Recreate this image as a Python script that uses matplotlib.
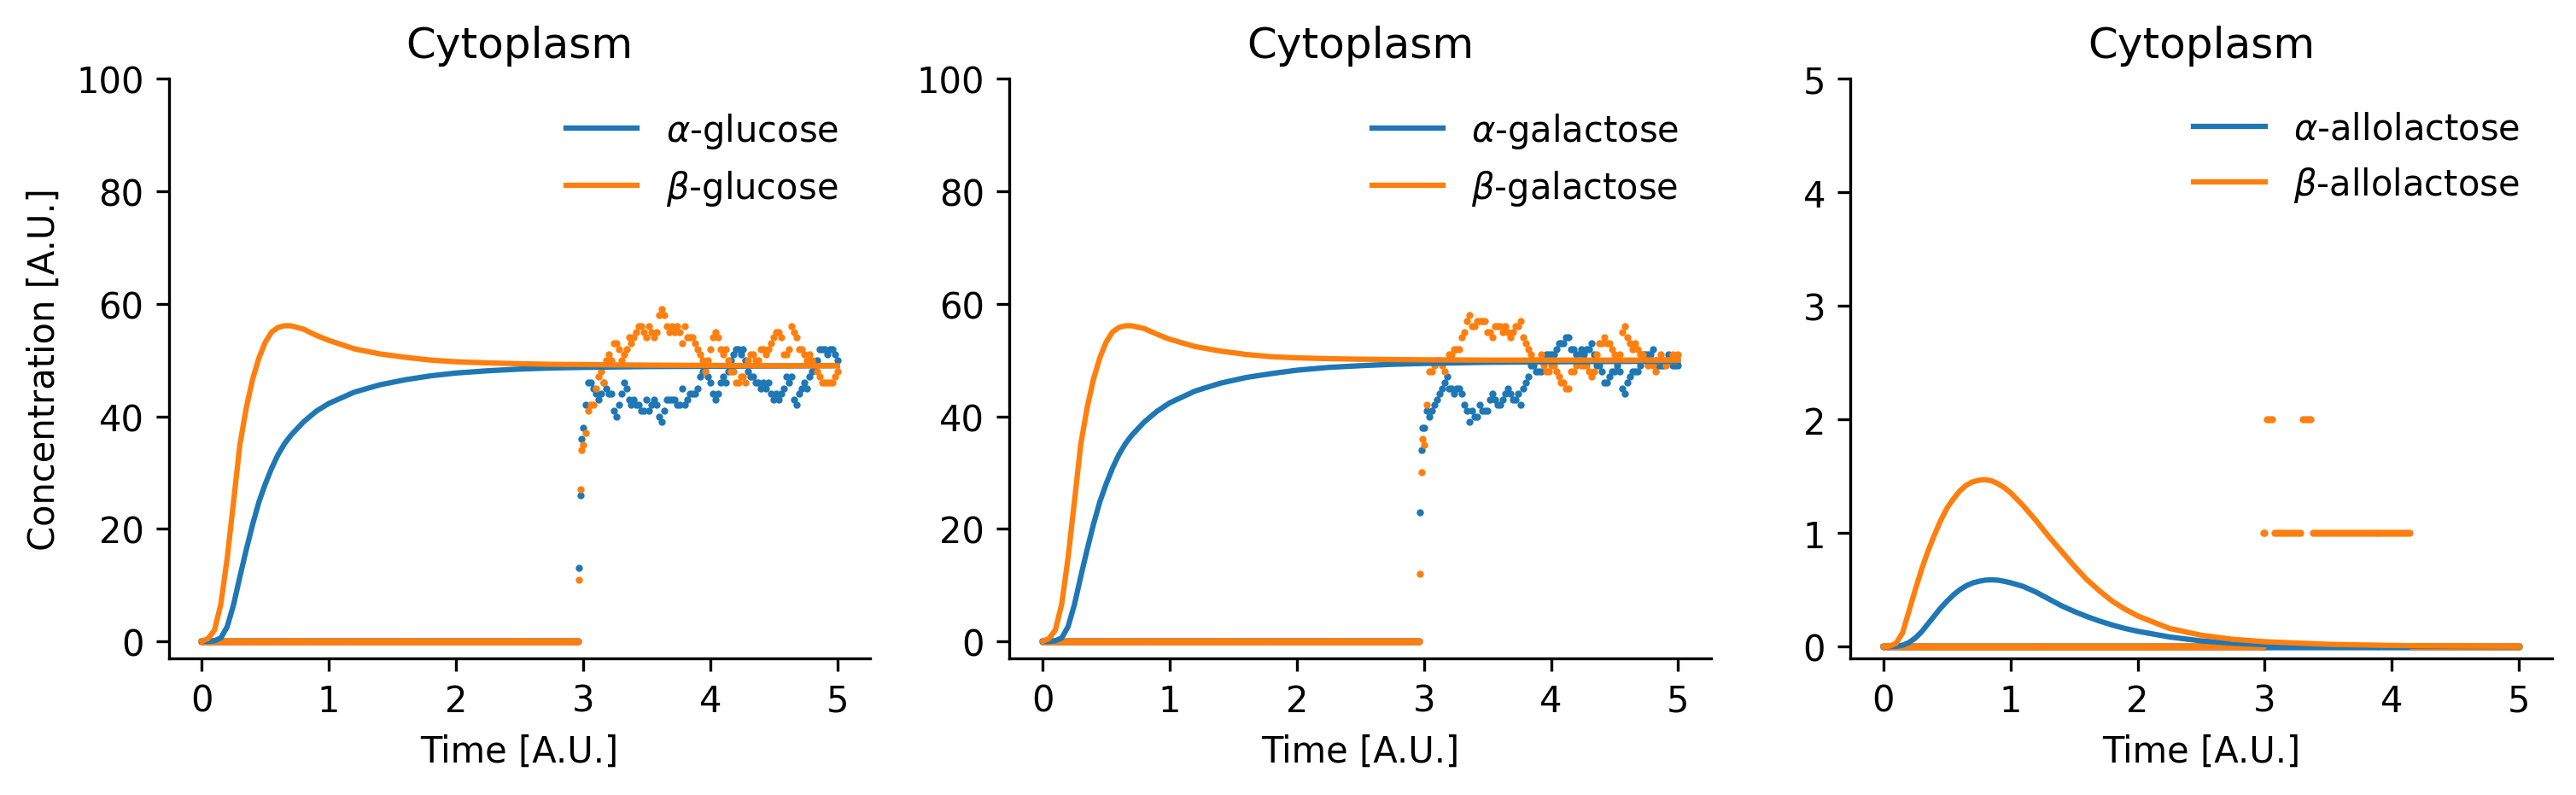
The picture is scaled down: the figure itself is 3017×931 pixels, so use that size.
import numpy as np
import matplotlib.pyplot as plt

# ---- deterministic solution ----
t_ode = [0, 0.05, 0.1, 0.15, 0.2, 0.25, 0.3, 0.35, 0.4, 0.45, 0.5, 0.55, 0.6, 0.65, 0.7,
         0.8, 0.9, 1.0, 1.2, 1.4, 1.6, 1.8, 2.0, 2.25, 2.5, 2.75, 3.0, 3.5, 4.0, 4.5, 5.0]
alpha_glc = [0, 0, 0.1, 0.6, 2.6, 6.5, 11.5, 16.3, 20.8, 24.8, 28.0, 30.8, 33.2, 35.1, 36.6,
             39.0, 40.9, 42.3, 44.3, 45.6, 46.5, 47.2, 47.7, 48.1, 48.4, 48.6, 48.7, 48.85, 48.9, 48.95, 49.0]
beta_glc = [0, 0.5, 2.0, 6.6, 14.8, 24.8, 35.0, 41.5, 46.6, 50.4, 53.2, 55.0, 55.8, 56.1, 56.1,
            55.5, 54.4, 53.5, 52.0, 51.1, 50.5, 50.0, 49.7, 49.5, 49.35, 49.25, 49.2, 49.1, 49.05, 49.0, 49.0]
alpha_gal = [0, 0, 0.1, 0.6, 2.6, 6.5, 11.5, 16.3, 20.8, 24.8, 28.0, 30.8, 33.2, 35.1, 36.6,
             39.0, 40.9, 42.4, 44.5, 45.9, 46.9, 47.6, 48.2, 48.7, 49.0, 49.25, 49.4, 49.6, 49.7, 49.75, 49.8]
beta_gal = [0, 0.5, 2.0, 6.6, 14.8, 24.8, 35.0, 41.5, 46.6, 50.4, 53.2, 55.0, 55.8, 56.1, 56.1,
            55.6, 54.6, 53.7, 52.4, 51.6, 51.0, 50.6, 50.4, 50.25, 50.15, 50.1, 50.05, 50.0, 50.0, 50.0, 50.0]

t_ode3 = [0, 0.05, 0.1, 0.15, 0.2, 0.25, 0.3, 0.35, 0.4, 0.45, 0.5, 0.55, 0.6, 0.65, 0.7,
          0.75, 0.8, 0.85, 0.9, 0.95, 1.0, 1.1, 1.2, 1.3, 1.4, 1.5, 1.6, 1.7, 1.8, 1.9,
          2.0, 2.25, 2.5, 2.75, 3.0, 3.5, 4.0, 4.5, 5.0]
alpha_allo = [0, 0, 0.002, 0.012, 0.035, 0.075, 0.13, 0.20, 0.27, 0.34, 0.40, 0.455, 0.50, 0.535, 0.56,
              0.575, 0.585, 0.588, 0.585, 0.575, 0.562, 0.53, 0.48, 0.42, 0.36, 0.31, 0.265, 0.225, 0.19, 0.16,
              0.135, 0.085, 0.05, 0.03, 0.017, 0.007, 0.003, 0.001, 0.0005]
beta_allo = [0, 0.005, 0.03, 0.12, 0.31, 0.50, 0.68, 0.84, 0.98, 1.11, 1.22, 1.30, 1.37, 1.42, 1.45,
             1.465, 1.47, 1.46, 1.435, 1.40, 1.355, 1.24, 1.11, 0.97, 0.84, 0.71, 0.59, 0.49, 0.40, 0.33,
             0.27, 0.16, 0.10, 0.064, 0.043, 0.02, 0.01, 0.005, 0.003]

# ---- stochastic run (dots) ----
# flat at zero until ~2.96, a few onset points, then every 0.02 from 3.00 to 5.00
t_flat = np.arange(0, 2.961, 0.02)
t_onset = [2.97, 2.98, 2.99]
t_main = np.round(np.arange(3.0, 5.001, 0.02), 2)

alpha_glc_onset = [13, 26, 36]
beta_glc_onset = [11, 27, 34]
alpha_gal_onset = [23, 34, 38]
beta_gal_onset = [12, 30, 36]
alpha_allo_onset = [0, 0, 0]
beta_allo_onset = [0, 0, 1]

alpha_glc_ssa = [38, 42, 46, 46, 45, 44, 43, 44, 46, 45,
                 44, 44, 41, 40, 42, 44, 46, 45, 43, 42,
                 43, 42, 42, 41, 41, 43, 41, 42, 43, 42,
                 40, 39, 41, 43, 43, 43, 43, 42, 42, 45,
                 42, 43, 44, 44, 44, 45, 47, 48, 48, 47,
                 46, 44, 43, 44, 46, 47, 46, 48, 50, 51,
                 52, 52, 51, 52, 50, 48, 47, 47, 46, 46,
                 45, 46, 45, 46, 44, 43, 44, 43, 44, 45,
                 47, 46, 47, 43, 42, 44, 45, 46, 45, 47,
                 48, 49, 50, 52, 52, 52, 51, 52, 52, 51,
                 50]
beta_glc_ssa = [35, 37, 41, 42, 42, 45, 47, 48, 46, 50,
                51, 50, 53, 53, 52, 50, 51, 52, 54, 53,
                54, 55, 56, 56, 55, 54, 56, 55, 54, 55,
                58, 59, 58, 56, 55, 56, 55, 56, 55, 53,
                56, 54, 54, 54, 53, 52, 51, 50, 48, 50,
                52, 54, 55, 54, 52, 51, 52, 50, 48, 48,
                46, 46, 47, 47, 46, 50, 51, 51, 50, 50,
                52, 52, 51, 52, 53, 54, 55, 55, 54, 51,
                51, 52, 56, 55, 54, 52, 52, 51, 50, 51,
                50, 49, 48, 47, 46, 46, 46, 46, 46, 47,
                48]
alpha_gal_ssa = [38, 41, 40, 41, 42, 43, 44, 45, 46, 47,
                 45, 45, 44, 45, 45, 44, 42, 41, 39, 41,
                 40, 40, 42, 41, 41, 41, 43, 44, 43, 42,
                 42, 43, 44, 45, 44, 43, 43, 44, 42, 45,
                 46, 47, 49, 49, 48, 48, 48, 50, 51, 51,
                 51, 51, 52, 53, 53, 53, 54, 54, 52, 52,
                 51, 51, 52, 51, 52, 52, 53, 51, 49, 49,
                 48, 46, 46, 47, 48, 48, 49, 48, 45, 44,
                 46, 47, 48, 48, 48, 49, 51, 51, 51, 51,
                 52, 50, 49, 49, 49, 50, 51, 50, 49, 49,
                 49]
beta_gal_ssa = [35, 42, 48, 48, 49, 50, 50, 49, 48, 50,
                51, 51, 52, 52, 52, 54, 55, 57, 58, 56,
                56, 57, 57, 57, 57, 55, 55, 54, 56, 56,
                56, 55, 56, 55, 54, 55, 56, 56, 57, 54,
                53, 52, 51, 50, 50, 50, 51, 49, 48, 48,
                49, 49, 48, 47, 46, 46, 45, 45, 48, 48,
                49, 50, 49, 49, 49, 48, 47, 48, 51, 53,
                53, 54, 53, 53, 52, 51, 50, 51, 55, 56,
                54, 53, 52, 53, 52, 51, 51, 50, 49, 50,
                49, 48, 50, 51, 50, 49, 50, 50, 51, 50,
                51]
alpha_allo_ssa = [0] * 101
beta_allo_ssa = [1] + [2] * 3 + [1] * 11 + [2] * 4 + [1] * 39 + [0] * 43

t_ssa = np.concatenate([t_flat, t_onset, t_main])


def ssa(onset, main):
    return np.concatenate([np.zeros(len(t_flat)), onset, main])


panels = [
    (r"$\alpha$-glucose", r"$\beta$-glucose", t_ode, alpha_glc, beta_glc,
     ssa(alpha_glc_onset, alpha_glc_ssa), ssa(beta_glc_onset, beta_glc_ssa), (-2.95, 100)),
    (r"$\alpha$-galactose", r"$\beta$-galactose", t_ode, alpha_gal, beta_gal,
     ssa(alpha_gal_onset, alpha_gal_ssa), ssa(beta_gal_onset, beta_gal_ssa), (-2.95, 100)),
    (r"$\alpha$-allolactose", r"$\beta$-allolactose", t_ode3, alpha_allo, beta_allo,
     ssa(alpha_allo_onset, alpha_allo_ssa), ssa(beta_allo_onset, beta_allo_ssa), (-0.1, 5)),
]

fig, axes = plt.subplots(1, 3, figsize=(3017 / 300, 932 / 300), dpi=300)
fig.subplots_adjust(left=0.0655, right=0.9907, bottom=0.1722, top=0.8999, wspace=0.1984)

for ax, (lab_a, lab_b, t_line, y_a, y_b, s_a, s_b, ylim) in zip(axes, panels):
    ax.scatter(t_ssa, s_a, s=1, color="C0")
    ax.scatter(t_ssa, s_b, s=1, color="C1")
    ax.plot(t_line, y_a, color="C0", label=lab_a)
    ax.plot(t_line, y_b, color="C1", label=lab_b)
    ax.set_title("Cytoplasm")
    ax.set_xlabel("Time [A.U.]")
    ax.set_xlim(-0.26, 5.26)
    ax.set_ylim(*ylim)
    ax.spines["top"].set_visible(False)
    ax.spines["right"].set_visible(False)
    ax.legend(frameon=False, loc="upper right")

axes[0].set_ylabel("Concentration [A.U.]")
axes[0].set_yticks([0, 20, 40, 60, 80, 100])
axes[1].set_yticks([0, 20, 40, 60, 80, 100])
axes[2].set_yticks([0, 1, 2, 3, 4, 5])

fig.savefig("out.png", dpi=300)
